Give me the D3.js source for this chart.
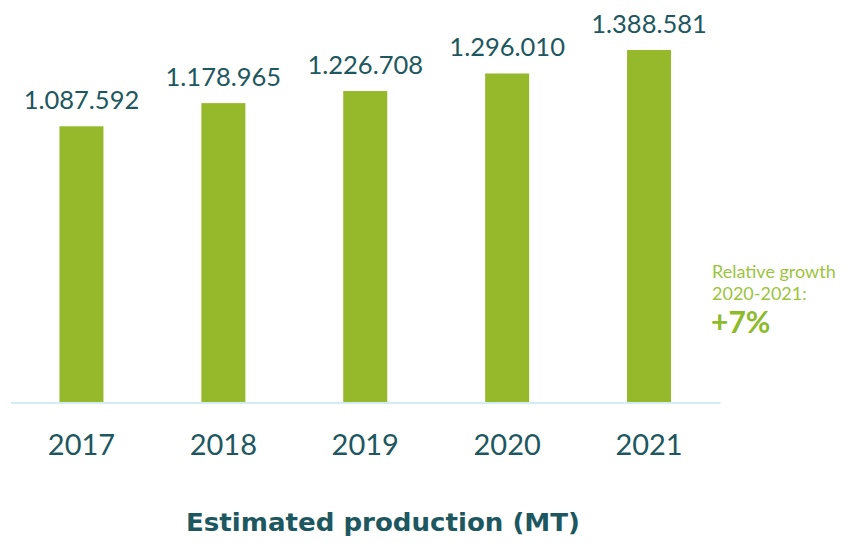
<!DOCTYPE html>
<html><head><meta charset="utf-8">
<script src="https://cdn.jsdelivr.net/npm/d3@7"></script>
<style>body{margin:0;background:#fff;}svg{display:block;}</style>
</head><body>
<svg id="c" width="854" height="542"></svg>
<script>
const years = ["2017","2018","2019","2020","2021"];
const production = [1087592, 1178965, 1226708, 1296010, 1388581];
const valueLabels = ["1.087.592","1.178.965","1.226.708","1.296.010","1.388.581"];
const title = "Estimated production (MT)";
const noteLines = ["Relative growth", "2020-2021:"];
const noteValue = "+7%";

const svg = d3.select("#c");
const font = "Lato, 'Open Sans', sans-serif";
const teal = "#1d5760";
const green = "#95b92a";

const x = d3.scaleBand().domain(years).range([10.5, 720]).padding(0);
const y = d3.scaleLinear().domain([0, 1600000]).range([402, 402 - 1600000 * (352 / 1388581)]);
const bw = 44;

svg.selectAll("rect.bar").data(production).join("rect")
  .attr("class","bar")
  .attr("x",(d,i)=>x(years[i]) + x.bandwidth()/2 - bw/2)
  .attr("width",bw)
  .attr("y",d=>y(d))
  .attr("height",d=>y(0)-y(d))
  .attr("fill",green);

const xAxis = svg.append("g").attr("transform","translate(0,402.5)")
  .call(d3.axisBottom(x).tickSize(0).tickPadding(0));
xAxis.select(".domain").attr("stroke","#d3ebf2").attr("stroke-width",2);
xAxis.selectAll(".tick text")
  .attr("y",52).attr("dy",0)
  .attr("font-family",font).attr("font-size",29).attr("fill",teal);

svg.selectAll("text.val").data(production).join("text")
  .attr("class","val")
  .attr("x",(d,i)=>x(years[i]) + x.bandwidth()/2)
  .attr("y",d=>y(d)-17)
  .attr("text-anchor","middle")
  .attr("font-family",font).attr("font-size",25.5).attr("fill",teal)
  .text((d,i)=>valueLabels[i]);

svg.append("text").attr("x",383).attr("y",531)
  .attr("text-anchor","middle")
  .attr("font-family","'DejaVu Sans', sans-serif").attr("font-weight","bold").attr("font-size",25).attr("fill",teal)
  .attr("textLength",394).attr("lengthAdjust","spacingAndGlyphs")
  .text(title);

svg.selectAll("text.note").data(noteLines).join("text")
  .attr("class","note")
  .attr("x",712).attr("y",(d,i)=>278 + i*22)
  .attr("font-family",font).attr("font-size",18).attr("fill","#9cc43c")
  .text(d=>d);
svg.append("text").attr("x",711).attr("y",333)
  .attr("font-family",font).attr("font-weight","bold").attr("font-size",30).attr("fill","#8dbb2a")
  .text(noteValue);
</script>
</body></html>
